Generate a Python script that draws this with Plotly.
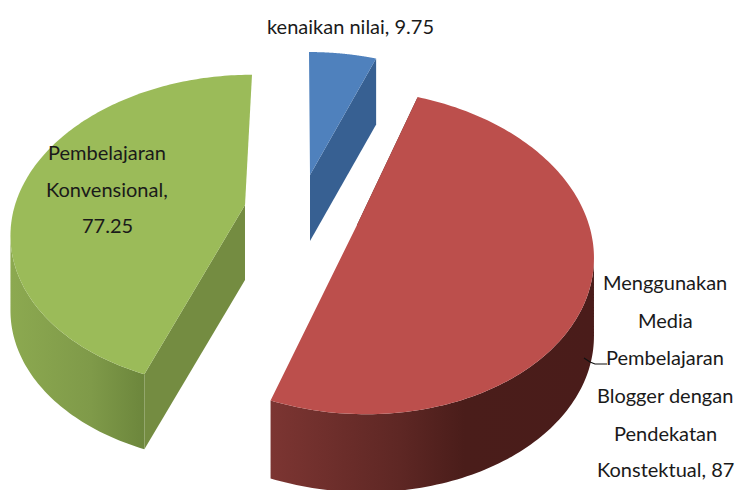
import numpy as np
import plotly.graph_objects as go

# --- data ---
categories = ["kenaikan nilai", "Menggunakan Media Pembelajaran Blogger dengan Pendekatan Konstektual", "Pembelajaran Konvensional"]
values = [9.75, 87, 77.25]
label_lines = [
    ["kenaikan nilai, 9.75"],
    ["Menggunakan", "Media", "Pembelajaran", "Blogger dengan", "Pendekatan", "Konstektual, 87"],
    ["Pembelajaran", "Konvensional,", "77.25"],
]

# --- view of the tilted, exploded pie (pixels of the 735x490 canvas) ---
PERSP = 0.167
apex_x = [310, 357, 245]
apex_y = [175, 225, 205]
radius_x = [225, 232, 230]
radius_y = [143.5, 157.6, 152]
skew = [1, 9, -7]
depth = [66, 78, 75]
top_colors = ["#4F81BD", "#BC4F4C", "#9BBB59"]
cut_colors = ["#376092", "#4A1D1A", "#748C41"]
wall_scales = [
    None,
    [[0, "#7C3532"], [0.4, "#5E2724"], [0.6, "#4A1D1A"], [1, "#4A1C1A"]],
    [[0, "#8CA950"], [0.6, "#7F9A49"], [1, "#6C863C"]],
]
label_x = [350, 665, 107]
label_y = [[26], [282, 320, 357, 395, 433, 469], [152, 189, 225]]
leader_x = [584, 590, 595, 607]
leader_y = [358, 362, 364, 364]


def project(i, deg):
    t = np.radians(np.asarray(deg, dtype=float))
    u, v = np.sin(t), -np.cos(t)
    w = 1 - PERSP * v
    return (apex_x[i] + radius_x[i] * u / w + skew[i] * v,
            apex_y[i] + radius_y[i] * v / w)


fig = go.Figure()
edges = np.concatenate([[0], np.cumsum(values)]) / np.sum(values) * 360

for i in range(len(values)):
    start, end = edges[i], edges[i + 1]
    th = np.linspace(start, end, 160)
    x, y = project(i, th)
    ax, ay = apex_x[i], apex_y[i]
    d = depth[i]

    # outer wall: only the part between the silhouette point and the near cut
    if wall_scales[i] is not None:
        k = int(np.argmax(x)) if i == 1 else int(np.argmin(x))
        if i == 1:
            wx, wy = x[k:], y[k:]
        else:
            wx, wy = x[:k + 1], y[:k + 1]
        px = np.concatenate([wx, wx[::-1]])
        py = np.concatenate([wy, wy[::-1] + d])
        fig.add_trace(go.Scatter(
            x=px, y=py, mode="none", fill="toself",
            fillgradient=dict(type="horizontal", colorscale=wall_scales[i]),
            hoverinfo="skip", showlegend=False))

    # visible cut face
    cut = end if i == 0 else start
    cx, cy = project(i, cut)
    fig.add_trace(go.Scatter(
        x=[ax, cx, cx, ax, ax], y=[ay, cy, cy + d, ay + d, ay],
        mode="none", fill="toself", fillcolor=cut_colors[i],
        hoverinfo="skip", showlegend=False))

    # top face
    fig.add_trace(go.Scatter(
        x=np.concatenate([[ax], x, [ax]]), y=np.concatenate([[ay], y, [ay]]),
        mode="none", fill="toself", fillcolor=top_colors[i],
        name=categories[i], text=f"{categories[i]}, {values[i]}", hoverinfo="text",
        showlegend=False))

fig.add_trace(go.Scatter(
    x=leader_x, y=leader_y, mode="lines", line=dict(color="#111111", width=1.2),
    hoverinfo="skip", showlegend=False))

for i, lines in enumerate(label_lines):
    for line, ly in zip(lines, label_y[i]):
        fig.add_annotation(
            x=label_x[i], y=ly, text=line, showarrow=False, xanchor="center", yanchor="middle",
            font=dict(family="Lato", size=20, color="#1a1a1a"))

fig.update_layout(
    width=735, height=490, margin=dict(l=0, r=0, t=0, b=0),
    paper_bgcolor="white", plot_bgcolor="white", showlegend=False,
    xaxis=dict(range=[0, 735], visible=False, fixedrange=True),
    yaxis=dict(range=[490, 0], visible=False, fixedrange=True),
)
fig.write_html("out.html", config=dict(displayModeBar=False),
               post_script="document.body.style.margin='0';")
